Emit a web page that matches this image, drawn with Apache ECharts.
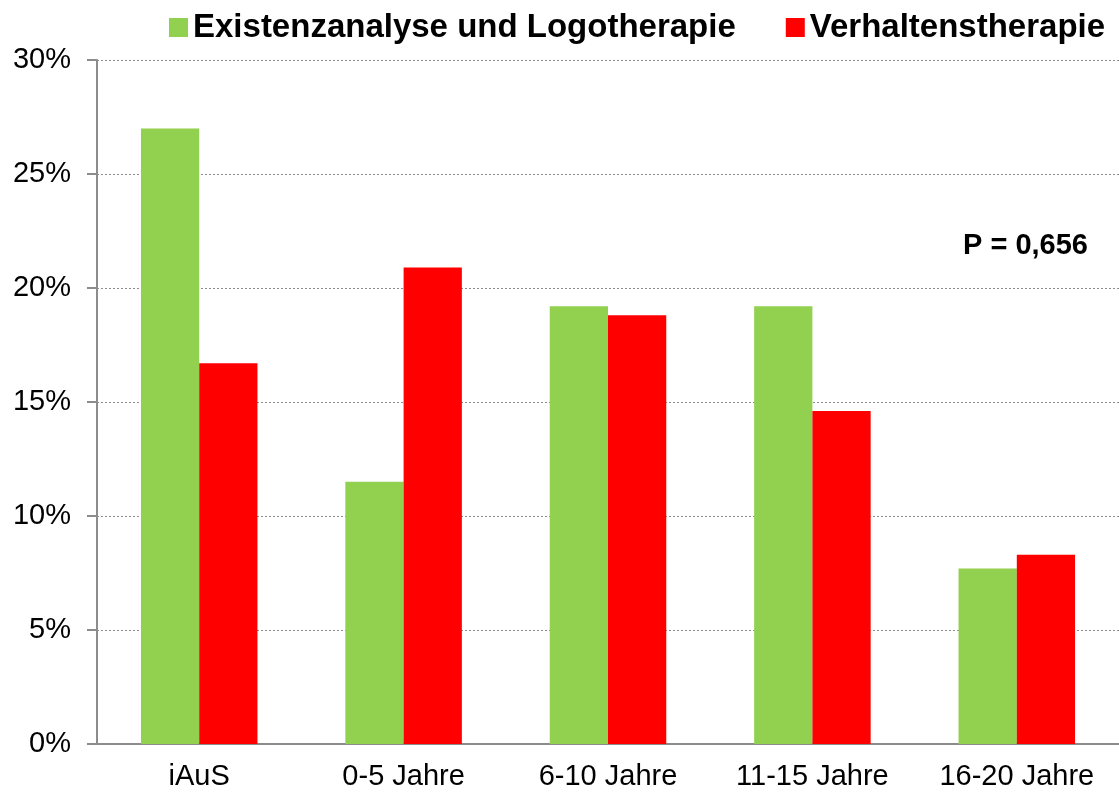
<!DOCTYPE html>
<html>
<head>
<meta charset="utf-8">
<script src="https://cdn.jsdelivr.net/npm/echarts@6/dist/echarts.min.js"></script>
<style>
  html, body { margin: 0; padding: 0; background: #fff; }
  #chart { width: 1119px; height: 794px; }
</style>
</head>
<body>
<div id="chart"></div>
<script>
// Kategorien und Werte (in %)
var categories = ['iAuS', '0-5 Jahre', '6-10 Jahre', '11-15 Jahre', '16-20 Jahre'];
var seriesNames = ['Existenzanalyse und Logotherapie', 'Verhaltenstherapie'];
var logotherapie = [27.0, 11.5, 19.2, 19.2, 7.7];
var verhaltenstherapie = [16.7, 20.9, 18.8, 14.6, 8.3];
var yTicks = [0, 5, 10, 15, 20, 25, 30];

var font = 'Liberation Sans, Arial, sans-serif';
var chart = echarts.init(document.getElementById('chart'));

var option = {
  animation: false,
  backgroundColor: '#fff',
  textStyle: { fontFamily: font },
  legend: {
    top: 11,
    left: 169,
    padding: 0,
    itemWidth: 19,
    itemHeight: 19,
    itemGap: 50,
    icon: 'rect',
    textStyle: { fontSize: 33, fontWeight: 'bold', color: '#000', fontFamily: font },
    data: seriesNames
  },
  grid: { left: 97, width: 1027, top: 60, bottom: 50, containLabel: false },
  xAxis: {
    type: 'category',
    data: categories,
    axisLine: { lineStyle: { color: '#8c8c8c', width: 2 } },
    axisTick: { length: 7, lineStyle: { color: '#8c8c8c', width: 2 } },
    axisLabel: { fontSize: 29, color: '#000', margin: 18, fontFamily: font }
  },
  yAxis: {
    type: 'value',
    min: yTicks[0],
    max: yTicks[yTicks.length - 1],
    interval: 5,
    axisLine: { show: true, lineStyle: { color: '#8c8c8c', width: 2 } },
    axisTick: { show: true, length: 10, lineStyle: { color: '#8c8c8c', width: 2 } },
    axisLabel: {
      fontSize: 29, color: '#000', margin: 26, fontFamily: font,
      formatter: function (v) { return v + '%'; }
    },
    splitLine: { show: true, lineStyle: { color: '#8c8c8c', type: [2, 2], width: 1 } }
  },
  series: [
    {
      name: seriesNames[0],
      type: 'bar',
      data: logotherapie,
      barGap: '0%',
      barCategoryGap: '43%',
      itemStyle: { color: '#92d050' }
    },
    {
      name: seriesNames[1],
      type: 'bar',
      data: verhaltenstherapie,
      barGap: '0%',
      barCategoryGap: '43%',
      itemStyle: { color: '#ff0000' }
    }
  ],
  graphic: [
    {
      type: 'text',
      right: 31,
      top: 231,
      style: { text: 'P = 0,656', fontSize: 29, fontWeight: 'bold', fill: '#000', fontFamily: font }
    }
  ]
};

chart.setOption(option);
</script>
</body>
</html>
